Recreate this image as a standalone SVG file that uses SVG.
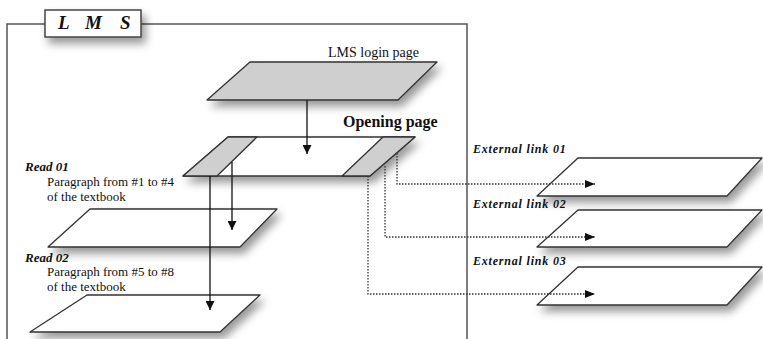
<svg xmlns="http://www.w3.org/2000/svg" width="763" height="339" viewBox="0 0 763 339">
<defs>
<filter id="sh" x="-20%" y="-30%" width="150%" height="190%">
<feDropShadow dx="4" dy="6" stdDeviation="4" flood-color="#000" flood-opacity="0.4"/>
</filter>
<marker id="ah" viewBox="0 0 10 10" refX="10" refY="5" markerWidth="9" markerHeight="9" markerUnits="userSpaceOnUse" orient="auto">
<path d="M0,0 L10,5 L0,10 Z" fill="#111"/>
</marker>
<marker id="ah2" viewBox="0 0 10 10" refX="10" refY="5" markerWidth="10" markerHeight="10" markerUnits="userSpaceOnUse" orient="auto">
<path d="M0,1 L10,5 L0,9 Z" fill="#111"/>
</marker>
</defs>
<style>
.page{fill:#fff;stroke:#333;stroke-width:1.3;stroke-linejoin:round}
.gray{fill:#cfcfcf;stroke:#333;stroke-width:1.3;stroke-linejoin:round}
.frame{fill:none;stroke:#555;stroke-width:1.5}
.arrow{fill:none;stroke:#111;stroke-width:1.3;marker-end:url(#ah)}
.dot{fill:none;stroke:#333;stroke-width:1.3;stroke-dasharray:1.5 1.5;marker-end:url(#ah2)}
.t{font-family:"Liberation Serif","Times New Roman",serif;fill:#111}
.bi{font-weight:bold;font-style:italic}
</style>
<rect width="763" height="339" fill="#fff"/>
<g id="frame">
<path class="frame" d="M7,339 L7,24 L45,24 M141,24 L467,24 L467,339"/>
</g>
<g id="title" filter="url(#sh)">
<rect x="45" y="10" width="96" height="27" fill="#fff" stroke="#444" stroke-width="1.5"/>
</g>
<g id="title-text">
<text class="t bi" x="58" y="29" font-size="19">L</text>
<text class="t bi" x="85" y="29" font-size="19">M</text>
<text class="t bi" x="120" y="29" font-size="19">S</text>
</g>
<g id="login">
<polygon class="gray" filter="url(#sh)" points="250,62 437,62 398,100 207,100"/>
<text class="t" x="328" y="57" font-size="14">LMS login page</text>
</g>
<g id="opening">
<polygon class="page" filter="url(#sh)" points="228,137 415,137 370,176 183,176"/>
<polygon class="gray" points="228,137 257,137 217,176 183,176"/>
<polygon class="gray" points="383,137 415,137 370,176 342,176"/>
<text class="t" x="343" y="127" font-size="16" font-weight="bold">Opening page</text>
</g>
<g id="read01">
<polygon class="page" filter="url(#sh)" points="90,209 277,209 240,247 48,247"/>
<text class="t bi" x="25" y="171" font-size="13">Read 01</text>
<text class="t" x="47" y="186" font-size="13">Paragraph from #1 to #4</text>
<text class="t" x="47" y="201" font-size="13">of the textbook</text>
</g>
<g id="read02">
<polygon class="page" filter="url(#sh)" points="87,295 260,295 220,332 30,332"/>
<text class="t bi" x="25" y="262" font-size="13">Read 02</text>
<text class="t" x="47" y="276" font-size="13">Paragraph from #5 to #8</text>
<text class="t" x="47" y="291" font-size="13">of the textbook</text>
</g>
<g id="ext1">
<polygon class="page" filter="url(#sh)" points="578,158 762,158 727,196 537,196"/>
<text class="t bi" x="473" y="153" font-size="12" letter-spacing="0.8">External link 01</text>
</g>
<g id="ext2">
<polygon class="page" filter="url(#sh)" points="578,210 762,210 727,247 537,247"/>
<text class="t bi" x="473" y="208" font-size="12" letter-spacing="0.8">External link 02</text>
</g>
<g id="ext3">
<polygon class="page" filter="url(#sh)" points="578,267 762,267 727,305 537,305"/>
<text class="t bi" x="473" y="265" font-size="12" letter-spacing="0.8">External link 03</text>
</g>
<g id="connectors">
<path class="arrow" d="M307,100 L307,154"/>
<path class="arrow" d="M232,162 L232,230"/>
<path class="arrow" d="M210,176 L210,310"/>
<path class="dot" d="M397,153 L397,184 L595,184"/>
<path class="dot" d="M385,166 L385,237 L595,237"/>
<path class="dot" d="M368,176 L368,294 L595,294"/>
</g>
</svg>
